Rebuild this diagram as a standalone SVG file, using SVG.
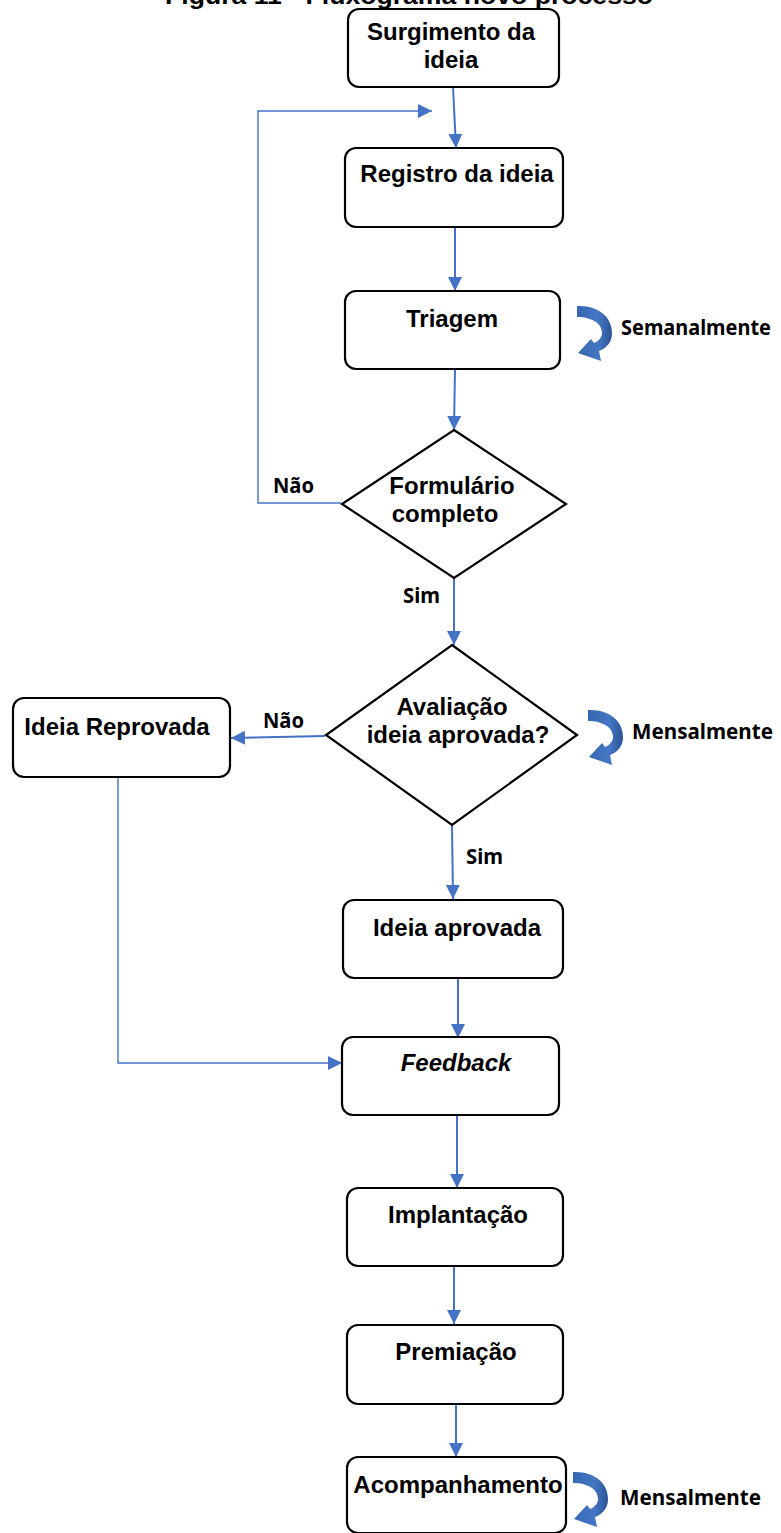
<svg xmlns="http://www.w3.org/2000/svg" width="781" height="1533" viewBox="0 0 781 1533">
<style>
.box{fill:#fff;stroke:#000;stroke-width:2.2}
.t{font-family:"Liberation Sans",Arial,sans-serif;font-weight:bold;font-size:24px;fill:#000;text-anchor:middle}
.lbl{font-family:"Noto Sans","Open Sans",sans-serif;font-weight:bold;font-size:22px;fill:#000}
.c{fill:none;stroke:#4472C4;stroke-width:2}
.thin{fill:none;stroke:#4472C4;stroke-width:1.4}
.curl{fill:url(#cg)}
</style>
<defs>
<marker id="ah" markerUnits="userSpaceOnUse" markerWidth="15" markerHeight="15" refX="14" refY="7" orient="auto" viewBox="0 0 15 15">
<path d="M0,0 L14,7 L0,14 Z" fill="#4472C4"/>
</marker>
<linearGradient id="cg" x1="0" y1="0" x2="1" y2="0">
<stop offset="0" stop-color="#3566B0"/>
<stop offset="0.6" stop-color="#4677C4"/>
<stop offset="1" stop-color="#2A5496"/>
</linearGradient>
<path id="curl" d="M0,0 C20,-1 35,10 35,27 C35,36 30,42 22,45 L24,55 L1,47 L14,33 L17,37 C22,35 25,31 25,27 C25,17 14,11 0,11 Z"/>
</defs>

<text class="t" x="409" y="4" font-size="26" textLength="488" lengthAdjust="spacingAndGlyphs">Figura 11 - Fluxograma novo processo</text>

<g id="connectors">
<path class="c" d="M453,87 L456,148" marker-end="url(#ah)"/>
<path class="thin" d="M341,503 L258,503 L258,111 L432,111" marker-end="url(#ah)"/>
<path class="c" d="M455,227 L455,291" marker-end="url(#ah)"/>
<path class="c" d="M455,369 L454,430" marker-end="url(#ah)"/>
<path class="c" d="M454,578 L454,645" marker-end="url(#ah)"/>
<path class="c" d="M325,736 L231,738" marker-end="url(#ah)"/>
<path class="c" d="M452,825 L453,899" marker-end="url(#ah)"/>
<path class="thin" d="M118,777 L118,1063 L342,1063" marker-end="url(#ah)"/>
<path class="c" d="M458,978 L458,1038" marker-end="url(#ah)"/>
<path class="c" d="M457,1115 L457,1188" marker-end="url(#ah)"/>
<path class="c" d="M454,1266 L454,1324" marker-end="url(#ah)"/>
<path class="c" d="M456,1404 L456,1457" marker-end="url(#ah)"/>
</g>

<g id="n-surgimento">
<rect class="box" x="348" y="9" width="211" height="78" rx="11"/>
<text class="t" x="451" y="40">Surgimento da</text>
<text class="t" x="451" y="68">ideia</text>
</g>
<g id="n-registro">
<rect class="box" x="345" y="148" width="218" height="79" rx="11"/>
<text class="t" x="457" y="182">Registro da ideia</text>
</g>
<g id="n-triagem">
<rect class="box" x="345" y="291" width="215" height="78" rx="11"/>
<text class="t" x="452" y="327">Triagem</text>
</g>
<g id="n-semanal">
<use href="#curl" class="curl" transform="translate(577,306)"/>
<text class="lbl" x="621" y="335" font-size="19" textLength="150" lengthAdjust="spacingAndGlyphs">Semanalmente</text>
</g>
<g id="n-formulario">
<polygon class="box" points="454,430 566,504 454,578 342,504"/>
<text class="t" x="452" y="494">Formulário</text>
<text class="t" x="445" y="522">completo</text>
</g>
<text class="lbl" x="273" y="493" textLength="41" lengthAdjust="spacingAndGlyphs">Não</text>
<text class="lbl" x="403" y="603" textLength="37" lengthAdjust="spacingAndGlyphs">Sim</text>
<g id="n-avaliacao">
<polygon class="box" points="452,645 577,735 452,825 326,735"/>
<text class="t" x="452" y="715">Avaliação</text>
<text class="t" x="458" y="743">ideia aprovada?</text>
</g>
<g id="n-mensal1">
<use href="#curl" class="curl" transform="translate(588,710)"/>
<text class="lbl" x="632" y="739" textLength="141" lengthAdjust="spacingAndGlyphs">Mensalmente</text>
</g>
<text class="lbl" x="263" y="728" textLength="41" lengthAdjust="spacingAndGlyphs">Não</text>
<g id="n-reprovada">
<rect class="box" x="13" y="698" width="217" height="79" rx="11"/>
<text class="t" x="117" y="735">Ideia Reprovada</text>
</g>
<text class="lbl" x="466" y="864" textLength="37" lengthAdjust="spacingAndGlyphs">Sim</text>
<g id="n-aprovada">
<rect class="box" x="343" y="900" width="220" height="78" rx="11"/>
<text class="t" x="457" y="936">Ideia aprovada</text>
</g>
<g id="n-feedback">
<rect class="box" x="342" y="1037" width="217" height="78" rx="11"/>
<text class="t" x="456" y="1071" font-style="italic">Feedback</text>
</g>
<g id="n-implantacao">
<rect class="box" x="347" y="1188" width="216" height="78" rx="11"/>
<text class="t" x="458" y="1223">Implantação</text>
</g>
<g id="n-premiacao">
<rect class="box" x="347" y="1325" width="216" height="79" rx="11"/>
<text class="t" x="456" y="1360">Premiação</text>
</g>
<g id="n-acompanhamento">
<rect class="box" x="347" y="1457" width="219" height="76" rx="11"/>
<text class="t" x="458" y="1493">Acompanhamento</text>
</g>
<g id="n-mensal2">
<use href="#curl" class="curl" transform="translate(573,1472)"/>
<text class="lbl" x="620" y="1505" textLength="141" lengthAdjust="spacingAndGlyphs">Mensalmente</text>
</g>
</svg>
